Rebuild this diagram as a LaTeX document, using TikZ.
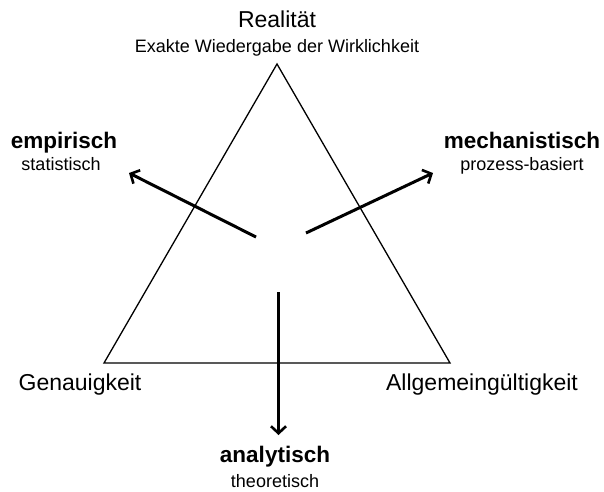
\documentclass[tikz,border=0pt]{standalone}
\usepackage{fontspec}
\setmainfont{Liberation Sans}
\usetikzlibrary{arrows.meta}
\tikzset{strelica/.style={line width=3pt, -{Straight Barb[length=7pt,width=15pt,line width=2.6pt]}}}
\tikzset{glavni/.style={anchor=base, inner sep=0pt, font=\fontsize{23}{23}\selectfont}}
\tikzset{smjer/.style={anchor=base, inner sep=0pt, font=\fontsize{22.5}{22.5}\selectfont\bfseries}}
\tikzset{opis/.style={anchor=base, inner sep=0pt, font=\fontsize{18}{18}\selectfont}}

\begin{document}
\begin{tikzpicture}[x=1pt, y=-1pt]
    \useasboundingbox (0, 0) rectangle (604, 491);

    %trokut
    \coordinate (vrh) at (277, 64);
    \coordinate (lijevo) at (104, 363);
    \coordinate (desno) at (450, 363);
    \draw[line width=1.3pt] (vrh) -- (lijevo) -- (desno) -- cycle;

    %vrhovi
    \node[glavni] (realitaet) at (277, 27) {Realität};
    \node[opis] (wiedergabe) at (277, 52) {Exakte Wiedergabe der Wirklichkeit};
    \node[glavni] (genauigkeit) at (80, 390) {Genauigkeit};
    \node[glavni] (allgemein) at (482, 390) {Allgemeingültigkeit};

    %smjerovi
    \node[smjer] (empirisch) at (64, 148) {empirisch};
    \node[opis] (statistisch) at (61, 170) {statistisch};
    \node[smjer] (mechanistisch) at (522, 148) {mechanistisch};
    \node[opis] (prozess) at (522, 170) {prozess-basiert};
    \node[smjer] (analytisch) at (275, 462) {analytisch};
    \node[opis] (theoretisch) at (275, 487) {theoretisch};

    %vektori
    \coordinate (e1) at (256, 237);
    \coordinate (e2) at (129, 173);
    \coordinate (m1) at (306, 233);
    \coordinate (m2) at (433, 173);
    \coordinate (a1) at (278.5, 292);
    \coordinate (a2) at (278.5, 435);
    \draw[strelica] (e1) -- (e2);
    \draw[strelica] (m1) -- (m2);
    \draw[strelica] (a1) -- (a2);
\end{tikzpicture}
\end{document}
